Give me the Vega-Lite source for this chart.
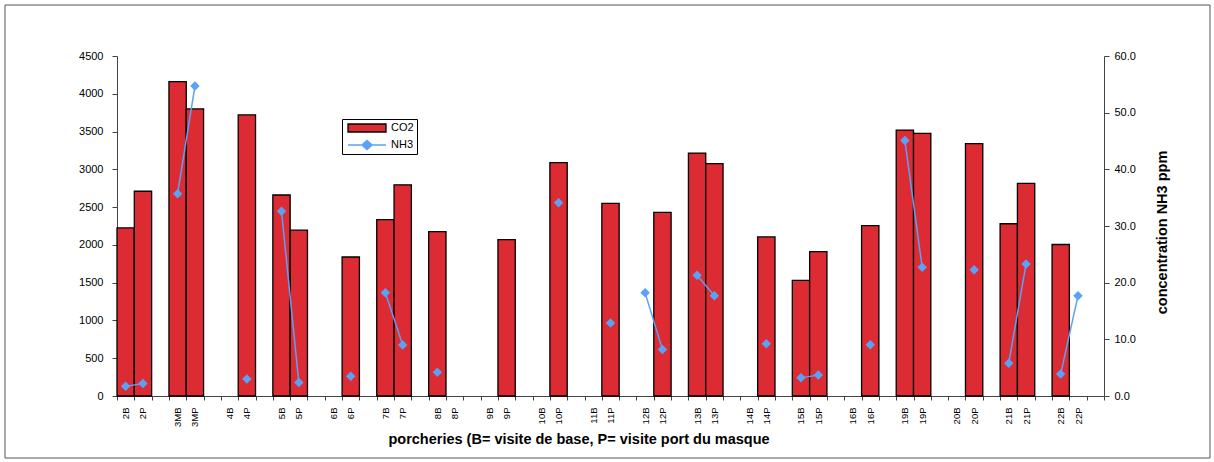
{
  "$schema": "https://vega.github.io/schema/vega-lite/v6.json",
  "autosize": {"type": "none"},
  "width": 987,
  "height": 340,
  "padding": {"left": 117, "top": 56, "right": 110, "bottom": 66},
  "background": "white",
  "config": {
    "font": "Liberation Sans",
    "view": {"stroke": null},
    "axis": {"labelFont": "Liberation Sans", "titleFont": "Liberation Sans", "labelColor": "#000", "titleColor": "#000", "domainColor": "#444", "tickColor": "#444", "grid": false},
    "legend": {"labelFont": "Liberation Sans", "titleFont": "Liberation Sans"}
  },
  "data": {
    "values": [
      {"p": "2B", "g": "2", "co2": 2225, "nh3": 1.7},
      {"p": "2P", "g": "2", "co2": 2710, "nh3": 2.2},
      {"p": "3MB", "g": "3", "co2": 4160, "nh3": 35.7},
      {"p": "3MP", "g": "3", "co2": 3800, "nh3": 54.7},
      {"p": "4P", "g": "4", "co2": 3720, "nh3": 3.0},
      {"p": "5B", "g": "5", "co2": 2660, "nh3": 32.6},
      {"p": "5P", "g": "5", "co2": 2195, "nh3": 2.4},
      {"p": "6P", "g": "6", "co2": 1840, "nh3": 3.5},
      {"p": "7B", "g": "7", "co2": 2335, "nh3": 18.2},
      {"p": "7P", "g": "7", "co2": 2795, "nh3": 9.0},
      {"p": "8B", "g": "8", "co2": 2175, "nh3": 4.2},
      {"p": "9P", "g": "9", "co2": 2070, "nh3": null},
      {"p": "10P", "g": "10", "co2": 3090, "nh3": 34.1},
      {"p": "11P", "g": "11", "co2": 2550, "nh3": 12.9},
      {"p": "12B", "g": "12", "co2": null, "nh3": 18.2},
      {"p": "12P", "g": "12", "co2": 2430, "nh3": 8.2},
      {"p": "13B", "g": "13", "co2": 3215, "nh3": 21.3},
      {"p": "13P", "g": "13", "co2": 3075, "nh3": 17.7},
      {"p": "14P", "g": "14", "co2": 2105, "nh3": 9.2},
      {"p": "15B", "g": "15", "co2": 1530, "nh3": 3.2},
      {"p": "15P", "g": "15", "co2": 1910, "nh3": 3.7},
      {"p": "16P", "g": "16", "co2": 2255, "nh3": 9.05},
      {"p": "19B", "g": "19", "co2": 3520, "nh3": 45.1},
      {"p": "19P", "g": "19", "co2": 3475, "nh3": 22.7},
      {"p": "20P", "g": "20", "co2": 3340, "nh3": 22.3},
      {"p": "21B", "g": "21", "co2": 2280, "nh3": 5.8},
      {"p": "21P", "g": "21", "co2": 2815, "nh3": 23.3},
      {"p": "22B", "g": "22", "co2": 2005, "nh3": 3.9},
      {"p": "22P", "g": "22", "co2": null, "nh3": 17.7}
    ]
  },
  "encoding": {
    "x": {
      "field": "p",
      "type": "nominal",
      "sort": null,
      "scale": {
        "domain": ["2B","2P","_2","3MB","3MP","_3","4B","4P","_4","5B","5P","_5","6B","6P","_6","7B","7P","_7","8B","8P","_8","9B","9P","_9","10B","10P","_10","11B","11P","_11","12B","12P","_12","13B","13P","_13","14B","14P","_14","15B","15P","_15","16B","16P","_16","19B","19P","_19","20B","20P","_20","21B","21P","_21","22B","22P","_22"],
        "paddingInner": 0,
        "paddingOuter": 0
      },
      "axis": {
        "labelExpr": "substring(datum.value,0,1)=='_' ? '' : datum.value",
        "labelAngle": 270,
        "labelAlign": "right",
        "labelBaseline": "middle",
        "labelFontSize": 9.5,
        "labelPadding": 7,
        "ticks": true,
        "tickBand": "extent",
        "tickSize": 4,
        "domain": true,
        "labelOverlap": false,
        "title": "porcheries (B= visite de base, P= visite port du masque",
        "titleFontSize": 14.5,
        "titleFontWeight": "bold",
        "titleX": 461.5,
        "titleY": 47.5,
        "titleAlign": "center",
        "titleBaseline": "alphabetic",
        "titleAnchor": null
      }
    }
  },
  "layer": [
    {
      "mark": {"type": "bar", "stroke": "#000", "strokeWidth": 1.3},
      "encoding": {
        "y": {
          "field": "co2",
          "type": "quantitative",
          "scale": {"domain": [0, 4500], "nice": false},
          "axis": {"values": [0,500,1000,1500,2000,2500,3000,3500,4000,4500], "format": "d", "title": null, "labelFontSize": 11, "tickSize": 5, "labelPadding": 9}
        },
        "fill": {
          "datum": "CO2",
          "type": "nominal",
          "scale": {"domain": ["CO2"], "range": ["#DC2B33"]},
          "legend": {
            "title": "\u00a0\u00a0\u00a0\u00a0\u00a0\u00a0\u00a0\u00a0\u00a0\u00a0\u00a0\u00a0\u00a0\u00a0\u00a0\u00a0\u00a0\u00a0\u00a0\u00a0\u00a0\u00a0\u00a0\u00a0",
            "titleOrient": "bottom",
            "titleFontSize": 11,
            "titlePadding": 5,
            "titleLimit": 400,
            "orient": "none",
            "legendX": 225,
            "legendY": 63,
            "padding": 3,
            "strokeColor": "#000",
            "symbolType": "M-3.8,-0.8H3.8V0.8H-3.8Z",
            "symbolSize": 100,
            "symbolStrokeColor": "#000",
            "symbolStrokeWidth": 1.3,
            "symbolOpacity": 1,
            "symbolOffset": 16,
            "labelOffset": 18,
            "labelFontSize": 11,
            "labelColor": "#000"
          }
        }
      }
    },
    {
      "mark": {"type": "line", "strokeWidth": 1.5},
      "encoding": {
        "y": {
          "field": "nh3",
          "type": "quantitative",
          "scale": {"domain": [0, 60], "nice": false},
          "axis": {"orient": "right", "values": [0,10,20,30,40,50,60], "format": ".1f", "labelFontSize": 11, "tickSize": 5, "labelPadding": 5, "title": "concentration NH3 ppm", "titleFontSize": 14.5, "titleFontWeight": "bold", "titleAngle": 270, "titleX": 62.5, "titleY": 176, "titleAlign": "center", "titleBaseline": "alphabetic"}
        },
        "stroke": {
          "datum": "NH3",
          "type": "nominal",
          "scale": {"domain": ["NH3"], "range": ["#5AA2F5"]},
          "legend": {
            "title": null,
            "orient": "none",
            "legendX": 225,
            "legendY": 80,
            "padding": 3,
            "zindex": 2,
            "symbolType": "M-3.8,0H3.8M-1,0L0,-0.9L1,0L0,0.9Z",
            "symbolSize": 100,
            "symbolFillColor": "#5AA2F5",
            "symbolStrokeWidth": 1.5,
            "symbolOpacity": 1,
            "symbolOffset": 16,
            "labelOffset": 18,
            "labelFontSize": 11,
            "labelColor": "#000"
          }
        },
        "detail": {"field": "g"}
      }
    },
    {
      "mark": {"type": "point", "shape": "diamond", "filled": true, "size": 90, "opacity": 1, "color": "#5AA2F5"},
      "encoding": {
        "y": {"field": "nh3", "type": "quantitative", "scale": {"domain": [0, 60], "nice": false}, "axis": null}
      }
    },
    {
      "transform": [{"filter": "false"}],
      "mark": {"type": "point", "filled": false, "color": "#555", "strokeWidth": 1},
      "encoding": {
        "shape": {
          "datum": "frame",
          "type": "nominal",
          "scale": {"domain": ["frame"], "range": ["M-2.66,-1H2.66V1H-2.66Z"]},
          "legend": {
            "title": null,
            "orient": "none",
            "legendX": 263.5,
            "legendY": -51.5,
            "padding": 0,
            "symbolSize": 205209,
            "symbolStrokeColor": "#555",
            "symbolFillColor": "transparent",
            "symbolStrokeWidth": 1,
            "symbolOpacity": 1,
            "symbolOffset": 0,
            "labelExpr": "''",
            "zindex": 0
          }
        }
      }
    }
  ],
  "resolve": {"scale": {"y": "independent"}, "axis": {"y": "independent"}}
}
